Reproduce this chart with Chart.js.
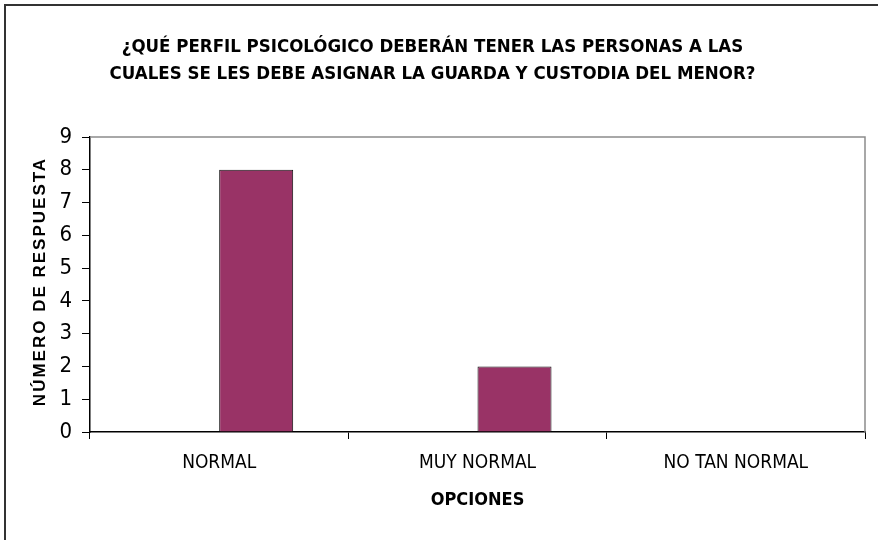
<!DOCTYPE html>
<html>
<head>
<meta charset="utf-8">
<script src="https://cdn.jsdelivr.net/npm/chart.js@4.4.1/dist/chart.umd.min.js"></script>
<style>
  html, body { margin: 0; padding: 0; background: #fff; overflow: hidden; }
  #wrap { position: relative; width: 878px; height: 540px; }
  canvas { display: block; }
  #frame { position: absolute; left: 4px; top: 4px; width: 874px; height: 536px;
    border-top: 2px solid #333; border-left: 2px solid #333; pointer-events: none; box-sizing: border-box; }
</style>
</head>
<body>
<div id="wrap">
  <canvas id="chart" width="878" height="540"></canvas>
  <div id="frame"></div>
</div>
<script>
// Data
const categories = ["NORMAL", "MUY NORMAL", "NO TAN NORMAL"];
const seriesEmpty = [null, null, null];
const respuestas = [8, 2, 0];
const yTicks = [0, 1, 2, 3, 4, 5, 6, 7, 8, 9];
const titleLines = [
  "¿QUÉ PERFIL PSICOLÓGICO DEBERÁN TENER LAS PERSONAS A LAS",
  "CUALES SE LES DEBE ASIGNAR LA GUARDA Y CUSTODIA DEL MENOR?",
];
const yTitle = "NÚMERO DE RESPUESTA";
const xTitle = "OPCIONES";

const narrow = '"Liberation Sans Narrow", "Arial Narrow", "DejaVu Sans Condensed", "Liberation Sans", sans-serif';

// Plot frame (gray top/right edges) + rotated, letter-spaced y title
const frameAndYTitle = {
  id: "frameAndYTitle",
  beforeDatasetsDraw(chart) {
    const { ctx, chartArea: a } = chart;
    ctx.save();
    ctx.strokeStyle = "#8c8c8c";
    ctx.lineWidth = 1.5;
    ctx.beginPath();
    ctx.moveTo(a.left, a.top);
    ctx.lineTo(a.right, a.top);
    ctx.lineTo(a.right, a.bottom);
    ctx.stroke();
    ctx.restore();
  },
  afterDraw(chart) {
    const { ctx, chartArea: a } = chart;
    ctx.save();
    ctx.translate(40, (a.top + a.bottom) / 2 - 3);
    ctx.rotate(-Math.PI / 2);
    ctx.font = "bold 17px 'Liberation Sans', Arial, sans-serif";
    ctx.letterSpacing = "2px";
    ctx.fillStyle = "#000";
    ctx.textAlign = "center";
    ctx.textBaseline = "middle";
    ctx.fillText(yTitle, 0, 0);
    ctx.restore();
  },
};

const chart = new Chart(document.getElementById("chart"), {
  type: "bar",
  data: {
    labels: categories,
    datasets: [
      { label: "", data: seriesEmpty, backgroundColor: "#993366", borderColor: "#000", borderWidth: 1 },
      { label: "Respuestas", data: respuestas, backgroundColor: "#993366", borderColor: "#111", borderWidth: 1 },
    ],
  },
  options: {
    responsive: false,
    animation: false,
    layout: { padding: { left: 0, right: 13, top: 0, bottom: 0 } },
    datasets: { bar: { categoryPercentage: 0.573, barPercentage: 1 } },
    plugins: {
      legend: { display: false },
      tooltip: { enabled: false },
      title: {
        display: true,
        text: titleLines,
        color: "#000",
        font: { family: narrow, size: 18.5, weight: "bold", lineHeight: 1.5 },
        padding: { top: 33, bottom: 48.5 },
      },
    },
    scales: {
      x: {
        grid: { offset: true, drawOnChartArea: false, drawTicks: true, tickLength: 7, color: "#000" },
        border: { color: "#000", width: 1.5 },
        ticks: { color: "#000", padding: 13, font: { family: narrow, size: 19 } },
        title: {
          display: true,
          text: xTitle,
          color: "#000",
          font: { family: narrow, size: 18, weight: "bold" },
          padding: { top: 0, bottom: 29 },
        },
        afterFit(s) { s.height = 540 - 432; },
      },
      y: {
        min: 0,
        max: 9,
        afterBuildTicks(s) { s.ticks = yTicks.map((v) => ({ value: v })); },
        grid: { drawOnChartArea: false, drawTicks: true, tickLength: 8, color: "#000" },
        border: { color: "#000", width: 1.5 },
        ticks: { color: "#000", padding: 10, font: { family: narrow, size: 22, weight: "300" } },
        afterFit(s) { s.width = 90; },
      },
    },
  },
  plugins: [frameAndYTitle],
});
</script>
</body>
</html>
